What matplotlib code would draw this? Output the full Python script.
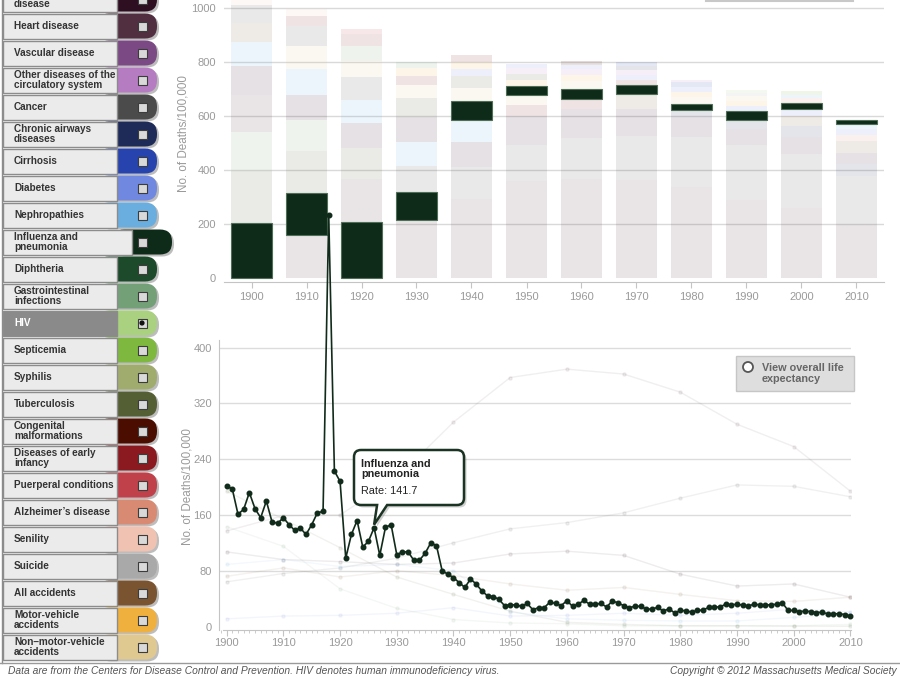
import matplotlib
matplotlib.use('Agg')
import matplotlib.pyplot as plt
from matplotlib.patches import FancyBboxPatch, Rectangle, Circle, PathPatch
from matplotlib.path import Path
from matplotlib.ticker import MultipleLocator

plt.rcParams['font.family'] = ['Liberation Sans', 'DejaVu Sans']

# ---------------- data ----------------
cause_keys = ['cereb', 'heart', 'vasc', 'circ', 'cancer', 'copd', 'cirr', 'diab', 'neph',
              'flu', 'diph', 'gi', 'hiv', 'sept', 'syph', 'tb', 'cong', 'infancy', 'puerp',
              'alz', 'senil', 'suic', 'acc', 'mv', 'nmv']
cause_labels = ["Cerebrovascular\ndisease", "Heart disease", "Vascular disease",
                "Other diseases of the\ncirculatory system", "Cancer", "Chronic airways\ndiseases",
                "Cirrhosis", "Diabetes", "Nephropathies", "Influenza and\npneumonia", "Diphtheria",
                "Gastrointestinal\ninfections", "HIV", "Septicemia", "Syphilis", "Tuberculosis",
                "Congenital\nmalformations", "Diseases of early\ninfancy", "Puerperal conditions",
                "Alzheimer\u2019s disease", "Senility", "Suicide", "All accidents",
                "Motor-vehicle\naccidents", "Non\u2013motor-vehicle\naccidents"]
cause_colors = ['#2e0f22', '#512f40', '#7b4a85', '#b57cc2', '#4b4b4b', '#1e2b58', '#2743ad',
                '#7088df', '#6aaee0', '#0e2a18', '#1c4a2a', '#74a078', '#a9d17f', '#7eb83e',
                '#a0ac6e', '#555f34', '#4a0d00', '#8b1a20', '#c1414a', '#d98a72', '#f0c2b2',
                '#a9a9a9', '#7a5430', '#f0b03e', '#e0c891']
highlight = 'flu'
selected = 'hiv'

decades = [1900, 1910, 1920, 1930, 1940, 1950, 1960, 1970, 1980, 1990, 2000, 2010]
stack_causes = [
    ['flu', 'tb', 'gi', 'heart', 'cereb', 'neph', 'acc', 'cancer', 'senil', 'diph'],
    ['heart', 'flu', 'tb', 'gi', 'cereb', 'neph', 'nmv', 'cancer', 'infancy', 'senil'],
    ['flu', 'heart', 'tb', 'cereb', 'neph', 'cancer', 'nmv', 'gi', 'infancy', 'puerp'],
    ['heart', 'flu', 'cancer', 'neph', 'cereb', 'tb', 'nmv', 'infancy', 'mv', 'gi'],
    ['heart', 'cancer', 'cereb', 'neph', 'flu', 'nmv', 'tb', 'diab', 'mv', 'infancy'],
    ['heart', 'cancer', 'cereb', 'infancy', 'nmv', 'flu', 'mv', 'tb', 'circ', 'diab'],
    ['heart', 'cancer', 'cereb', 'infancy', 'flu', 'nmv', 'mv', 'circ', 'diab', 'cong'],
    ['heart', 'cancer', 'cereb', 'acc', 'flu', 'infancy', 'diab', 'circ', 'copd', 'cirr'],
    ['heart', 'cancer', 'cereb', 'copd', 'flu', 'nmv', 'mv', 'diab', 'cirr', 'circ'],
    ['heart', 'cancer', 'cereb', 'copd', 'flu', 'diab', 'mv', 'nmv', 'suic', 'hiv'],
    ['heart', 'cancer', 'cereb', 'copd', 'acc', 'diab', 'flu', 'alz', 'neph', 'sept'],
    ['heart', 'cancer', 'copd', 'cereb', 'acc', 'alz', 'diab', 'neph', 'flu'],
]
stack_values = [
    [202, 194, 143, 137, 107, 89, 72, 64, 50, 40],
    [159, 156, 153, 115, 95, 96, 83, 74, 39, 23],
    [207, 160, 113, 93, 86, 84, 60, 53, 45, 19],
    [213, 104, 98, 89, 90, 70, 50, 33, 28, 24],
    [293, 118, 93, 80, 70, 47, 44, 27, 25, 28],
    [357, 136, 107, 41, 35, 32, 23, 24, 20, 15],
    [365, 152, 108, 37, 37, 28, 25, 21, 16, 12],
    [360, 163, 102, 55, 32, 21, 19, 18, 15, 15],
    [336, 184, 75, 25, 24, 24, 21, 16, 18, 10],
    [289, 201, 60, 35, 31, 19, 19, 18, 12, 12],
    [258, 201, 62, 42, 37, 25, 23, 17, 13, 12],
    [196, 182, 44, 41, 42, 25, 21, 19, 15],
]

flu_years = list(range(1900, 2011))
flu_rates = [202, 197, 161, 168, 192, 169, 156, 180, 150, 148,
             156, 146, 138, 141, 132, 146, 163, 165, 590, 223,
             208, 98, 132, 152, 114, 122, 141.7, 102, 142, 146,
             103, 107, 107, 95, 95, 105, 120, 116, 80, 75,
             70, 63, 56, 68, 61, 51, 44, 43, 39, 30,
             31, 31, 29, 33, 24, 27, 27, 35, 33, 30,
             37, 29, 32, 37.5, 32, 32, 33, 28, 36.5, 34,
             30, 27, 29, 29, 25, 25, 27.5, 22, 25.5, 19.5,
             23, 22.5, 20.5, 23, 23.5, 27.5, 28, 28, 32, 31,
             32, 30.5, 29.5, 32, 31, 31, 31, 32, 34, 23,
             23, 21.5, 22, 21.5, 20, 20.5, 18, 18, 18.5, 17,
             15]
tooltip_year = 1926

# faint background series (other causes), read at decade years
bg_keys = ['heart', 'cancer', 'cereb', 'tb', 'gi', 'neph', 'acc', 'diab']
bg_heart = [137, 159, 160, 213, 293, 357, 369, 362, 336, 290, 258, 194]
bg_cancer = [64, 76, 84, 98, 120, 140, 149, 163, 184, 203, 201, 186]
bg_cereb = [107, 96, 93, 89, 91, 104, 108, 102, 75, 58, 61, 42]
bg_tb = [194, 154, 113, 71, 46, 22, 6, 3, 1, 1, 0.5, 0.3]
bg_gi = [143, 115, 54, 26, 10, 5, 4, 1, 1, 1, 1, 3]
bg_neph = [89, 96, 86, 89, 80, 21, 11, 9, 8, 8, 13, 19]
bg_acc = [72, 84, 71, 80, 73, 61, 52, 56, 46, 37, 36, 42]
bg_diab = [11, 15, 16, 19, 27, 15, 16, 19, 16, 19, 25, 21]
bg_series = [bg_heart, bg_cancer, bg_cereb, bg_tb, bg_gi, bg_neph, bg_acc, bg_diab]

color_of = dict(zip(cause_keys, cause_colors))

# ---------------- figure ----------------
W, H = 900, 679
fig = plt.figure(figsize=(9, 6.79), dpi=100)


def rect(left, top, right, bottom):
    return [left / W, 1 - bottom / H, (right - left) / W, (bottom - top) / H]


GRAY_TXT = '#9a9a9a'
AX_LINE = '#c4c4c4'

# ---- top: stacked bars ----
ax1 = fig.add_axes(rect(224, 0, 884, 282))
for i, (causes, vals) in enumerate(zip(stack_causes, stack_values)):
    bottom = 0
    for c, v in zip(causes, vals):
        if c == highlight:
            ax1.bar(i, v, bottom=bottom, width=0.73, color=color_of[c],
                    edgecolor='#4f6e57', linewidth=0.8, zorder=3)
        else:
            ax1.bar(i, v, bottom=bottom, width=0.73, color=color_of[c],
                    alpha=0.12, linewidth=0, zorder=2)
        bottom += v
ax1.set_xlim(-0.5, 11.5)
ax1.set_ylim(-16, 1028)
for y in [200, 400, 600, 800, 1000]:
    ax1.axhline(y, color='#d9d9d9', lw=1, zorder=0)
for s in ['top', 'right', 'left']:
    ax1.spines[s].set_visible(False)
ax1.spines['bottom'].set_color(AX_LINE)
ax1.set_xticks(range(len(decades)))
ax1.set_xticklabels([str(d) for d in decades])
ax1.set_yticks([0, 200, 400, 600, 800, 1000])
ax1.tick_params(axis='x', length=4, color=AX_LINE, labelcolor=GRAY_TXT, labelsize=8, pad=3)
ax1.tick_params(axis='y', length=0, labelcolor=GRAY_TXT, labelsize=8, pad=6)
ax1.patch.set_alpha(0)

# ---- bottom: line chart ----
ax2 = fig.add_axes(rect(219, 340, 851, 630))
ax2.set_xlim(1898.65, 2010.1)
ax2.set_ylim(-5, 410.8)
for y in [80, 160, 240, 320, 400]:
    ax2.axhline(y, color='#dcdcdc', lw=1, zorder=0)
for key, vals in zip(bg_keys, bg_series):
    ax2.plot(decades, vals, color=color_of[key], alpha=0.08, lw=1.0,
             marker='o', ms=2.3, zorder=2)
ax2.plot(flu_years, flu_rates, color='#112b1b', lw=1.2, marker='o', ms=3.3,
         clip_on=False, zorder=6)
for s in ['top', 'right']:
    ax2.spines[s].set_visible(False)
ax2.spines['left'].set_color(AX_LINE)
ax2.spines['bottom'].set_color(AX_LINE)
ax2.spines['bottom'].set_bounds(1899.4, 2010.1)
ax2.xaxis.set_major_locator(MultipleLocator(10))
ax2.xaxis.set_minor_locator(MultipleLocator(1))
ax2.set_yticks([0, 80, 160, 240, 320, 400])
ax2.tick_params(axis='x', which='major', length=4, color=AX_LINE, labelcolor=GRAY_TXT,
                labelsize=8, pad=2)
ax2.tick_params(axis='x', which='minor', length=2.5, color=AX_LINE)
ax2.tick_params(axis='y', length=0, labelcolor=GRAY_TXT, labelsize=8, pad=5)
ax2.patch.set_alpha(0)

# ---- overlay in pixel coordinates ----
ov = fig.add_axes([0, 0, 1, 1], zorder=10)
ov.set_xlim(0, W)
ov.set_ylim(H, 0)
ov.axis('off')
ov.patch.set_alpha(0)

# y-axis titles
ov.text(184, 134, 'No. of Deaths/100,000', rotation=90, ha='center', va='center',
        color=GRAY_TXT, fontsize=8.4)
ov.text(187, 487, 'No. of Deaths/100,000', rotation=90, ha='center', va='center',
        color=GRAY_TXT, fontsize=8.4)

# legend buttons
for i, (key, lab, col) in enumerate(zip(cause_keys, cause_labels, cause_colors)):
    cy = -1 + 27 * i
    top = cy - 12.5
    hgt = 25
    if key == highlight:
        lr, tr = 132, 172
    else:
        lr, tr = 117, 157
    tl = lr - 20
    ov.add_patch(FancyBboxPatch((tl + 2, top + 2), tr - tl, hgt,
                                boxstyle='round,pad=0,rounding_size=12',
                                fc='#6e6e6e', ec='none', alpha=0.45))
    ov.add_patch(FancyBboxPatch((tl, top), tr - tl, hgt,
                                boxstyle='round,pad=0,rounding_size=12',
                                fc=col, ec='none'))
    is_sel = key == selected
    ov.add_patch(Rectangle((3, top), lr - 3, hgt, fc='#8a8a8a' if is_sel else '#ebebeb',
                           ec='#8c8c8c', lw=1))
    ov.add_patch(Rectangle((137.5, cy - 4.5), 9, 9, fc='#d9d9d9', ec='#3c3c3c', lw=0.8))
    if is_sel:
        ov.add_patch(Circle((142, cy), 2.6, fc='#111111', ec='none'))
    ov.text(14, cy, lab, ha='left', va='center', fontsize=7.2, fontweight='bold',
            color='white' if is_sel else '#333333', linespacing=0.98)

ov.plot([2, 2], [0, 663], color='#8c8c8c', lw=1)

# top-right box edge
ov.plot([706, 853], [1, 1], color='#c8c8c8', lw=1.5)

# life expectancy toggle
ov.add_patch(Rectangle((736, 356), 118, 35, fc='#dedede', ec='#c6c6c6', lw=1))
ov.add_patch(Circle((748, 367), 5, fc='white', ec='#555555', lw=1.3))
ov.text(762, 373.5, 'View overall life\nexpectancy', ha='left', va='center', fontsize=7.8,
        fontweight='bold', color='#666666', linespacing=1.05)

# tooltip
fig.canvas.draw()
tip_disp = ax2.transData.transform((tooltip_year, flu_rates[flu_years.index(tooltip_year)]))
tx, ty = ov.transData.inverted().transform(tip_disp)
ty -= 3


def callout(x0, y0, x1, y1, r, b0, b1, tip):
    verts = [(x0 + r, y0), (x1 - r, y0), (x1, y0), (x1, y0 + r), (x1, y1 - r), (x1, y1),
             (x1 - r, y1), (b1, y1), tip, (b0, y1), (x0 + r, y1), (x0, y1), (x0, y1 - r),
             (x0, y0 + r), (x0, y0), (x0 + r, y0), (x0 + r, y0)]
    codes = [Path.MOVETO, Path.LINETO, Path.CURVE3, Path.CURVE3, Path.LINETO, Path.CURVE3,
             Path.CURVE3, Path.LINETO, Path.LINETO, Path.LINETO, Path.LINETO, Path.CURVE3,
             Path.CURVE3, Path.LINETO, Path.CURVE3, Path.CURVE3, Path.CLOSEPOLY]
    return Path(verts, codes)


bx0, by0, bx1, by1 = 354, 450, 464, 505
p_shadow = callout(bx0 + 2.5, by0 + 2.5, bx1 + 2.5, by1 + 2.5, 7, tx + 5.5, tx + 15.5,
                   (tx + 2.5, ty + 2.5))
ov.add_patch(PathPatch(p_shadow, fc='#7a7a7a', ec='none', alpha=0.35))
p_box = callout(bx0, by0, bx1, by1, 7, tx + 3, tx + 13, (tx, ty))
ov.add_patch(PathPatch(p_box, fc='white', ec='#1b3323', lw=1.8))
ov.text(361, 469, 'Influenza and\npneumonia', ha='left', va='center', fontsize=7.8,
        fontweight='bold', color='#222222', linespacing=0.95)
ov.text(361, 491, 'Rate: %.1f' % flu_rates[flu_years.index(tooltip_year)], ha='left',
        va='center', fontsize=7.8, color='#222222')

# footer
ov.plot([0, 900], [663, 663], color='#9a9a9a', lw=1)
ov.text(8, 671, 'Data are from the Centers for Disease Control and Prevention. HIV denotes '
        'human immunodeficiency virus.', ha='left', va='center', fontsize=7.4,
        style='italic', color='#555555')
ov.text(897, 671, 'Copyright \u00a9 2012 Massachusetts Medical Society', ha='right',
        va='center', fontsize=7.4, style='italic', color='#555555')

fig.savefig('out.png', dpi=100)
